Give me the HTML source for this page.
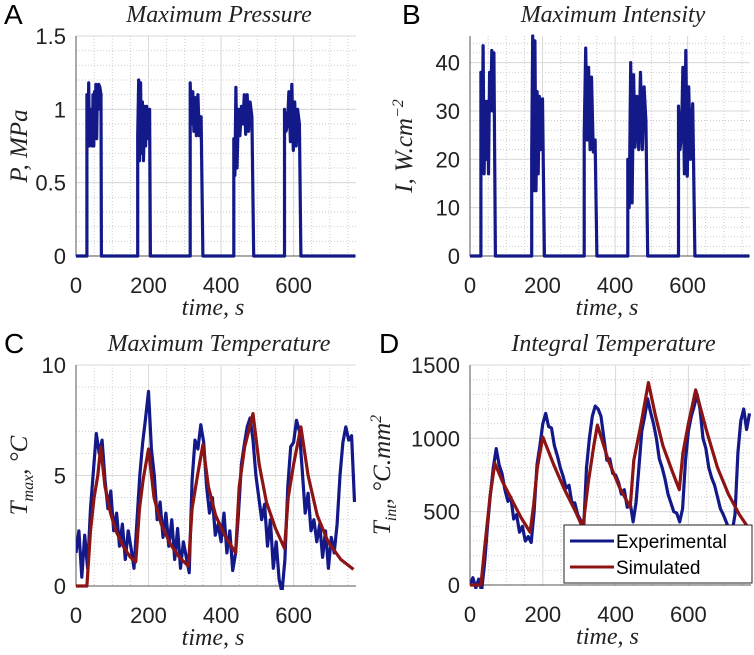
<!DOCTYPE html>
<html><head><meta charset="utf-8">
<style>
html,body{margin:0;padding:0;background:#fff;}
svg{display:block;}
text{fill:#222;}
.tick{font-family:"Liberation Sans",sans-serif;font-size:22px;}
.title{font-family:"Liberation Serif",serif;font-style:italic;font-size:24px;}
.ylab{font-family:"Liberation Serif",serif;font-style:italic;font-size:25px;}
.letter{font-family:"Liberation Sans",sans-serif;font-size:28px;fill:#000;}
.leg{font-family:"Liberation Sans",sans-serif;font-size:19px;fill:#000;}
</style></head>
<body>
<svg id="fig" width="754" height="655" viewBox="0 0 754 655" xmlns="http://www.w3.org/2000/svg"></svg>
<script>
// ---------- DATA ----------
const xTicks=[0,200,400,600];
const yTicksA=[0,0.5,1,1.5], yTickLabelsA=["0","0.5","1","1.5"];
const yTicksB=[0,10,20,30,40], yTickLabelsB=["0","10","20","30","40"];
const yTicksC=[0,5,10], yTickLabelsC=["0","5","10"];
const yTicksD=[0,500,1000,1500], yTickLabelsD=["0","500","1000","1500"];

const tPress=[0,30,30,33,35,37,39,41,43,45,47,49,51,53,55,57,59,61,63,66,69,70,170,170,173,175,178,180,183,186,189,192,195,199,203,205,315,315,318,322,325,328,332,336,340,345,350,435,435,438,441,444,448,452,456,460,464,468,472,476,480,485,490,575,575,579,583,587,591,595,599,603,607,611,616,620,770];
const vPress=[0,0,1.1,0.8,1.18,0.75,1.0,0.78,1.0,0.75,1.1,0.75,1.12,0.98,1.17,0.8,1.15,1.0,1.17,1.15,1.1,0,0,0.82,1.2,0.65,1.18,0.7,1.05,0.65,1.02,0.75,1.02,0.8,1.0,0,0,1.18,0.9,1.12,0.85,1.08,0.82,1.1,0.82,0.95,0,0,0.8,0.55,1.15,0.6,1.0,0.82,1.02,0.9,1.1,0.83,1.1,0.85,1.05,0.95,0,0,1.0,0.85,0.9,1.12,0.78,1.17,0.72,1.05,0.75,1.0,0.9,0,0];

const tInt=[0,30,30,33,36,39,42,45,48,51,54,57,60,63,66,70,170,170,173,176,179,182,185,188,191,195,200,205,315,315,319,323,327,331,335,340,345,350,435,435,439,443,447,451,455,460,465,470,475,480,485,490,575,575,579,583,587,591,595,599,603,608,614,620,770];
const vInt=[0,0,38,18,43.5,17,32,20,32,17,38,30,42.5,30,42,0,0,21,45.5,13.5,44.5,13.5,34,17,33,22,32.5,0,0,25,43,24,39,22,37,21.5,24,0,0,20,10,40,11,37.5,22.5,33,22,38,22,35,28,0,0,31,22,25,39,17,42.5,16.5,35,20,31.5,0,0];

const tExpC=[0,8,16,24,32,40,48,56,64,72,80,88,96,104,112,120,128,136,144,152,160,168,176,184,192,200,208,216,224,232,240,248,256,264,272,280,288,296,304,312,320,328,336,344,352,360,368,376,384,392,400,408,416,424,432,440,448,456,464,472,480,488,496,504,512,520,528,536,544,552,560,568,576,584,592,600,608,616,624,632,640,648,656,664,672,680,688,696,704,712,720,728,736,744,752,760,768];
const vExpC=[1.5,2.5,0.4,2.3,0.8,3.5,5.2,6.9,6.0,6.6,4.8,3.5,4.3,2.5,3.3,1.8,2.8,1.2,2.5,1.7,0.8,2.9,5.0,6.5,7.6,8.8,6.2,5.0,3.0,3.8,2.2,3.3,1.8,3.0,1.2,2.6,0.8,2.0,1.3,0.6,4.8,6.6,6.2,7.3,6.5,4.5,3.3,4.0,2.3,2.8,2.0,3.3,1.5,2.5,0.7,1.5,3.3,5.5,6.4,7.2,7.6,6.6,5.0,4.0,3.0,3.7,1.8,3.0,0.8,2.0,0.3,-0.3,1.2,4.5,6.3,6.5,7.5,7.0,5.2,3.3,4.2,2.5,3.0,2.0,2.8,1.3,2.5,0.8,2.2,1.5,2.8,5.0,6.5,7.2,6.6,6.8,3.8];
const tSimC=[0,30,40,50,60,68,80,95,110,130,150,165,175,185,200,215,235,260,285,310,320,335,350,365,385,410,440,450,465,488,505,525,550,575,585,600,620,640,665,695,730,765];
const vSimC=[0,0,2.5,4,5,6.3,4.5,3.3,2.5,1.8,1.3,1.1,3.5,4.8,6.2,4.0,2.8,1.9,1.3,0.9,3.5,5,6.4,4.5,3.2,2.3,1.5,4.5,6.3,7.8,5.5,3.8,2.6,1.7,4,5.5,7.2,5,3.2,2.0,1.2,0.75];

const tExpD=[0,8,16,24,32,40,48,56,64,72,80,88,96,104,112,120,128,136,144,152,160,168,176,184,192,200,208,216,224,232,240,248,256,264,272,280,288,296,304,312,320,328,336,344,352,360,368,376,384,392,400,408,416,424,432,440,448,456,464,472,480,488,496,504,512,520,528,536,544,552,560,568,576,584,592,600,608,616,624,632,640,648,656,664,672,680,688,696,704,712,720,728,736,744,752,760,768];
const vExpD=[0,50,-20,40,-40,150,400,620,800,930,820,760,650,570,600,450,480,360,400,300,330,290,500,820,950,1100,1170,1080,1070,950,880,800,740,660,680,560,560,480,440,380,800,1000,1150,1220,1200,1150,1000,850,860,760,750,700,620,650,530,560,430,560,800,1050,1150,1270,1180,1100,1000,860,800,720,620,560,500,490,430,520,850,1050,1150,1220,1300,1200,1000,930,800,730,680,600,520,480,430,380,360,480,900,1120,1200,1060,1170];
const tSimD=[0,30,40,55,68,90,115,140,165,175,185,200,230,260,290,310,325,340,350,380,410,440,450,470,490,510,530,555,575,585,600,620,650,680,710,740,770];
const vSimD=[0,0,250,600,830,700,580,460,360,550,800,1010,820,650,500,390,700,950,1090,850,670,530,850,1100,1380,1150,950,780,650,900,1100,1330,1050,800,620,480,370];

// ---------- DRAW ----------
const NS="http://www.w3.org/2000/svg";
const svg=document.getElementById('fig');
function mk(tag,attrs,parent){const e=document.createElementNS(NS,tag);for(const k in attrs)e.setAttribute(k,attrs[k]);(parent||svg).appendChild(e);return e;}
const BLUE="#14198a", RED="#8c1414";

function panel(p){
  const g=mk('g',{});
  
  
  const sx=t=>p.x0+(t-0)/(p.xmax)*(p.x1-p.x0);
  const sy=v=>p.y0-(v-p.ymin)/(p.ymax-p.ymin)*(p.y0-p.y1);
  for(let t=50;t<=p.xmax;t+=50){const l=mk('line',{x1:sx(t),x2:sx(t),y1:p.y1,y2:p.y0,stroke:'#c8c8c8','stroke-width':0.9,'stroke-dasharray':'1,2'},g);}
  for(let v=p.ymin+p.minor;v<=p.ymax+1e-9;v+=p.minor){const l=mk('line',{x1:p.x0,x2:p.x1,y1:sy(v),y2:sy(v),stroke:'#c8c8c8','stroke-width':0.9,'stroke-dasharray':'1,2'},g);}
  xTicks.forEach(t=>{const l=mk('line',{x1:sx(t),x2:sx(t),y1:p.y1,y2:p.y0,stroke:'#d8d8d8','stroke-width':1},g);
    const tx=mk('text',{x:sx(t),y:p.y0+37,'text-anchor':'middle',class:'tick'},g);tx.textContent=String(t);});
  p.yt.forEach((v,i)=>{const l=mk('line',{x1:p.x0,x2:p.x1,y1:sy(v),y2:sy(v),stroke:'#d8d8d8','stroke-width':1},g);
    const tx=mk('text',{x:p.x0-10,y:sy(v)+8,'text-anchor':'end',class:'tick'},g);tx.textContent=p.yl[i];});
  const ax=mk('path',{d:`M${p.x0},${p.y1}V${p.y0}H${p.x1}`,fill:'none',stroke:'#555','stroke-width':1},g);
  
  const cid='clip'+p.name;
  const cp=mk('clipPath',{id:cid},g);mk('rect',{x:p.x0,y:p.y1-2,width:p.x1-p.x0,height:p.y0-p.y1+6},cp);
  p.series.forEach(s=>{
    let d='';s.t.forEach((t,i)=>{d+=(i?'L':'M')+sx(t).toFixed(1)+','+sy(s.v[i]).toFixed(1);});
    const l=mk('path',{d:d,fill:'none',stroke:s.c,'stroke-width':3.2,'stroke-linejoin':'round','clip-path':`url(#${cid})`},g);
    
  });
  const ti=mk('text',{x:(p.x0+p.x1)/2+3,y:p.y1-14,'text-anchor':'middle',class:'title'},g);ti.textContent=p.title;
  const le=mk('text',{x:p.lx,y:p.y1-12,class:'letter'},g);le.textContent=p.letter;
  const xl=mk('text',{x:(p.x0+p.x1)/2-3,y:p.y0+59,'text-anchor':'middle',class:'title'},g);xl.textContent='time, s';
  const yl=mk('text',{x:0,y:0,'text-anchor':'middle',class:'ylab',transform:`translate(${p.ylx},${(p.y0+p.y1)/2}) rotate(-90)`},g);yl.innerHTML=p.ylab;
  return {sx,sy};
}

panel({name:'pressure-panel',letter:'A',lx:4,x0:76,x1:356,xmax:772,y0:256,y1:36,ymin:0,ymax:1.5,minor:0.1,yt:yTicksA,yl:yTickLabelsA,title:'Maximum Pressure',ylx:27,ylab:'P, MPa',
  series:[{t:tPress,v:vPress,c:BLUE,n:'pressure-line'}]});
panel({name:'intensity-panel',letter:'B',lx:402,x0:470,x1:750,xmax:772,y0:256,y1:36,ymin:0,ymax:45.5,minor:2,yt:yTicksB,yl:yTickLabelsB,title:'Maximum Intensity',ylx:412,ylab:'I, W.cm<tspan dy="-9" font-size="16">−2</tspan>',
  series:[{t:tInt,v:vInt,c:BLUE,n:'intensity-line'}]});
panel({name:'max-temperature-panel',letter:'C',lx:4,x0:76,x1:356,xmax:772,y0:586,y1:365,ymin:0,ymax:10,minor:1,yt:yTicksC,yl:yTickLabelsC,title:'Maximum Temperature',ylx:27,ylab:'T<tspan dy="6" font-size="16">max</tspan><tspan dy="-6">, °C</tspan>',
  series:[{t:tExpC,v:vExpC,c:BLUE,n:'experimental-line'},{t:tSimC,v:vSimC,c:RED,n:'simulated-line'}]});
panel({name:'integral-temperature-panel',letter:'D',lx:379,x0:470,x1:751,xmax:772,y0:585,y1:365,ymin:0,ymax:1500,minor:100,yt:yTicksD,yl:yTickLabelsD,title:'Integral Temperature',ylx:390,ylab:'T<tspan dy="6" font-size="16">int</tspan><tspan dy="-6">, °C.mm</tspan><tspan dy="-9" font-size="16">2</tspan>',
  series:[{t:tExpD,v:vExpD,c:BLUE,n:'experimental-line'},{t:tSimD,v:vSimD,c:RED,n:'simulated-line'}]});

// legend
const lg=mk('g',{});


mk('rect',{x:564,y:525,width:188,height:58,fill:'#fff',stroke:'#222','stroke-width':1},lg);
mk('line',{x1:570,x2:614,y1:541,y2:541,stroke:BLUE,'stroke-width':3},lg);
mk('line',{x1:570,x2:614,y1:567,y2:567,stroke:RED,'stroke-width':3},lg);
const e1=mk('text',{x:616,y:548,class:'leg'},lg);e1.textContent='Experimental';


const e2=mk('text',{x:616,y:574,class:'leg'},lg);e2.textContent='Simulated';


</script>
</body></html>
